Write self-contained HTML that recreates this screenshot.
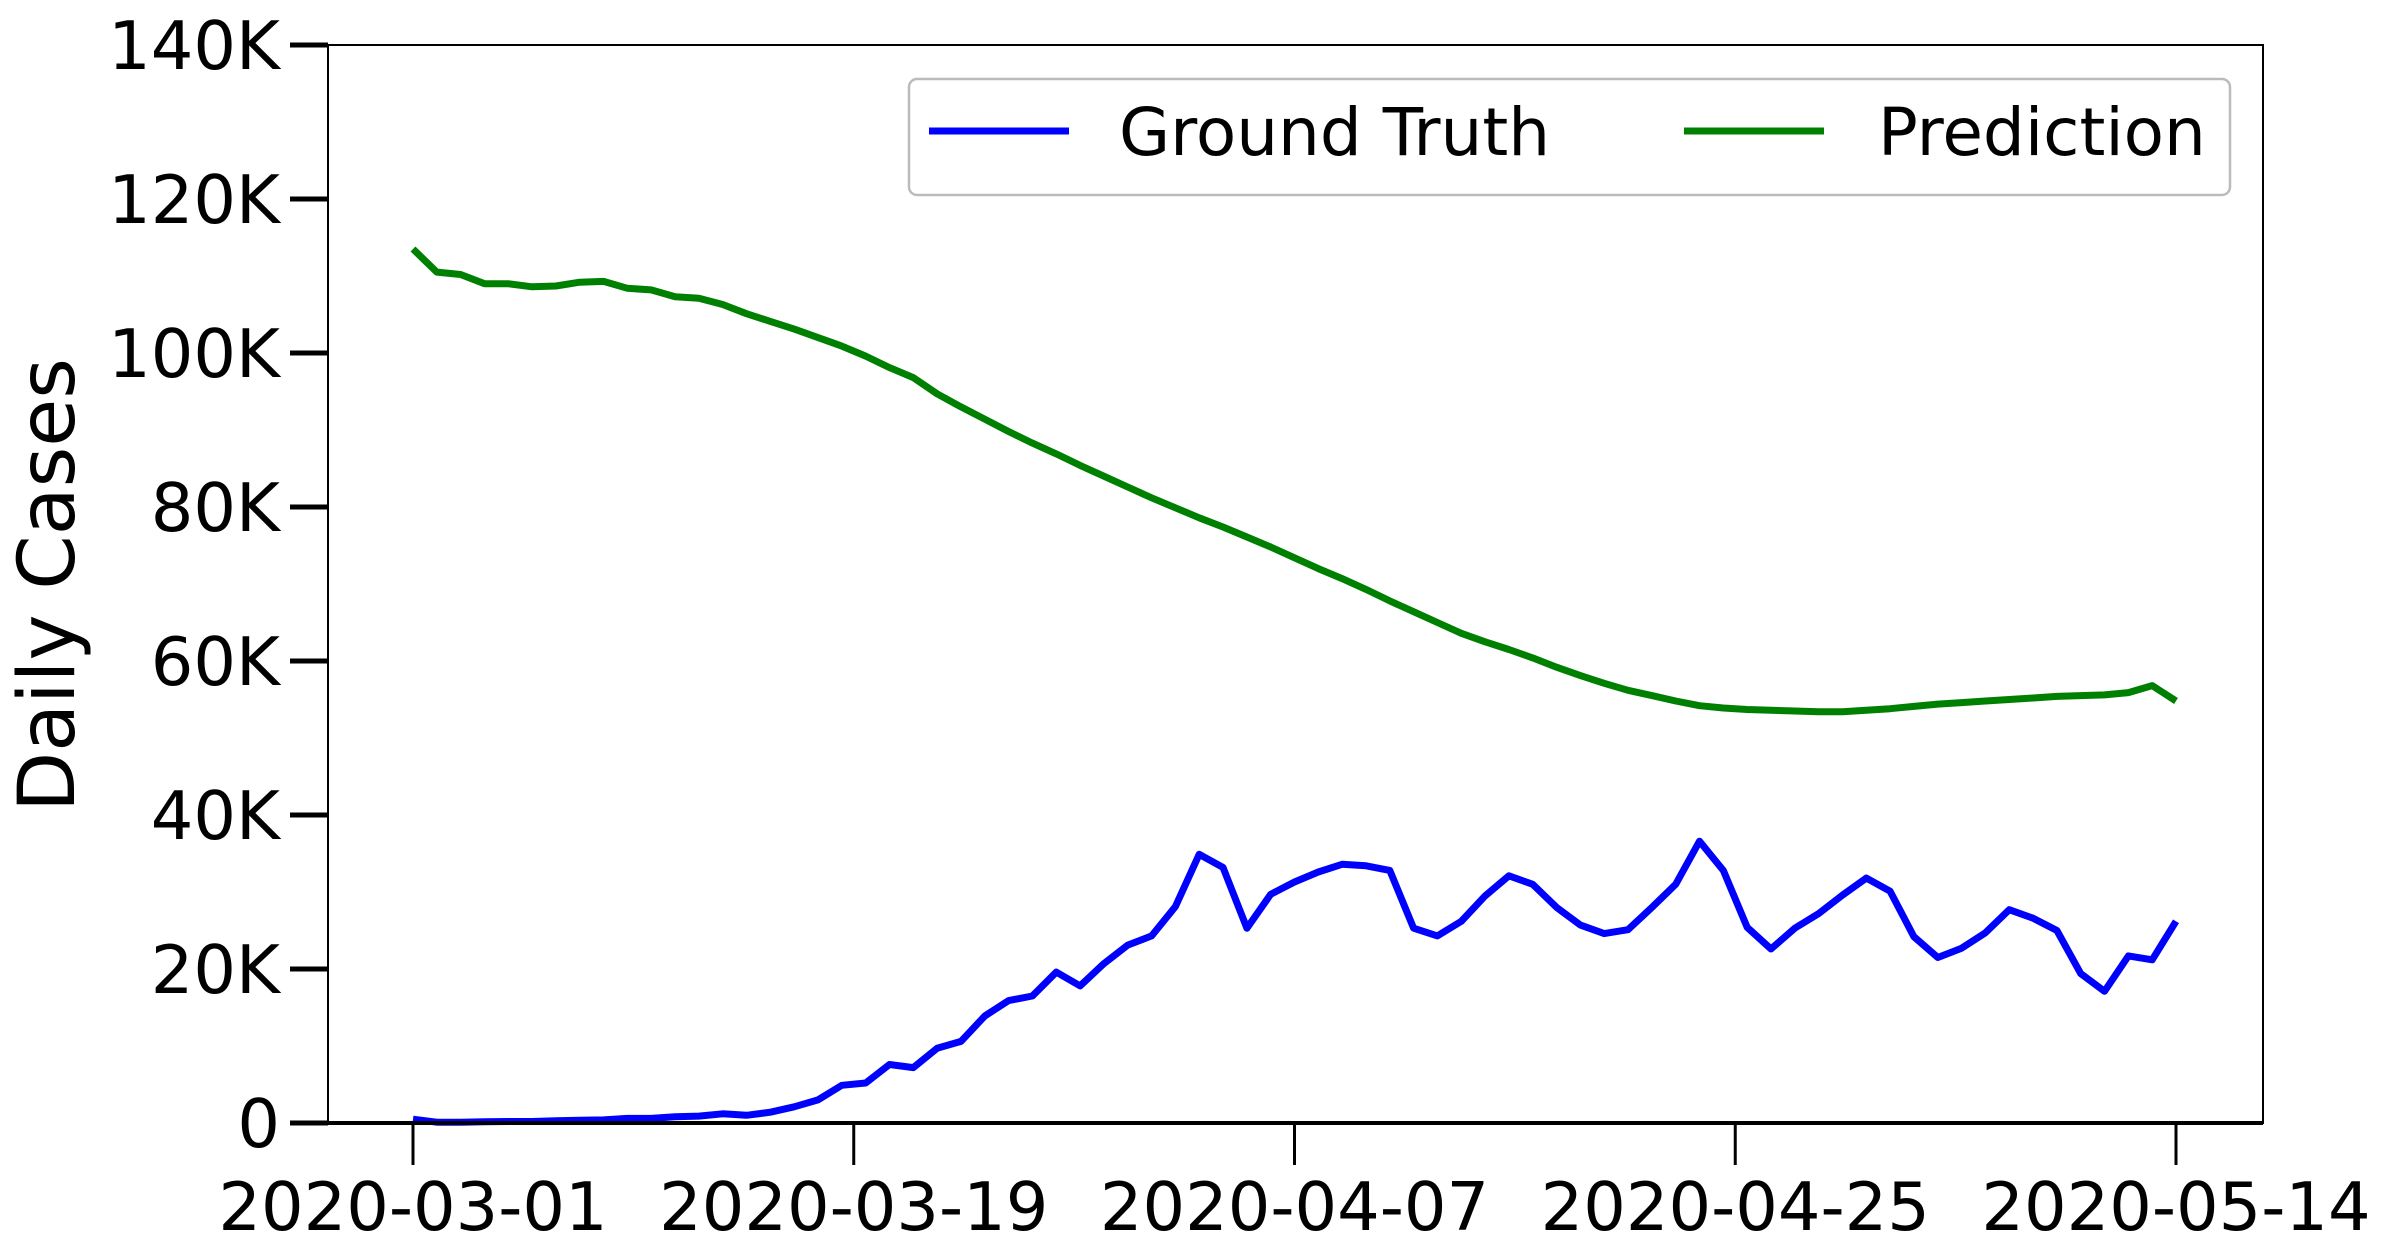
<!DOCTYPE html>
<html><head><meta charset="utf-8"><style>
html,body{margin:0;padding:0;background:#fff;}
svg{display:block;font-family:"DejaVu Sans","Liberation Sans",sans-serif;}
</style></head><body>
<svg id="chart" width="2389" height="1258" viewBox="0 0 2389 1258" xmlns="http://www.w3.org/2000/svg">
<rect x="0" y="0" width="2389" height="1258" fill="#fff"/>
<g id="plot"></g>
<text x="0" y="0" font-size="78" text-anchor="middle" transform="translate(74,585) rotate(-90)">Daily Cases</text>
<g>
<rect x="909" y="79" width="1321" height="116" rx="8" fill="#fff" stroke="#bbb" stroke-width="2.5"/>
<line x1="929" y1="131" x2="1069" y2="131" stroke="#0000ff" stroke-width="7"/>
<text x="1119" y="155" font-size="66">Ground Truth</text>
<line x1="1684" y1="131" x2="1824" y2="131" stroke="#008000" stroke-width="7"/>
<text x="1878" y="155" font-size="66">Prediction</text>
</g>
</svg>
<script>
const groundTruth = [0.5,0.1,0.1,0.15,0.2,0.2,0.3,0.35,0.4,0.6,0.6,0.8,0.9,1.2,1.0,1.4,2.1,3.0,4.9,5.2,7.6,7.2,9.7,10.6,13.9,15.9,16.5,19.6,17.8,20.7,23.1,24.3,28.1,34.9,33.2,25.3,29.7,31.3,32.6,33.6,33.4,32.8,25.3,24.3,26.2,29.5,32.1,31,28,25.7,24.6,25.1,28,31,36.6,32.8,25.4,22.6,25.3,27.2,29.6,31.8,30.1,24.2,21.5,22.7,24.7,27.7,26.6,25,19.4,17.1,21.7,21.2,26.2];
const prediction = [113.5,110.5,110.2,109,109,108.6,108.7,109.2,109.3,108.4,108.2,107.3,107.1,106.3,105.1,104.1,103.1,102,100.9,99.6,98.1,96.8,94.7,93,91.4,89.8,88.3,86.9,85.4,84,82.6,81.2,79.9,78.6,77.4,76.1,74.8,73.4,72,70.7,69.3,67.8,66.4,65,63.6,62.5,61.5,60.4,59.2,58.1,57.1,56.2,55.5,54.8,54.2,53.9,53.7,53.6,53.5,53.4,53.4,53.6,53.8,54.1,54.4,54.6,54.8,55,55.2,55.4,55.5,55.6,55.9,56.8,54.8];
const yTicks = [0,20,40,60,80,100,120,140];
const yTickLabels = ["0","20K","40K","60K","80K","100K","120K","140K"];
const xTickDays = [0,18.5,37,55.5,74];
const xTickLabels = ["2020-03-01","2020-03-19","2020-04-07","2020-04-25","2020-05-14"];

const NS="http://www.w3.org/2000/svg";
const L=328,R=2263,T=45,B=1123;
const X0=413,X1=2176,nDays=74;
function xs(d){return X0+(X1-X0)*d/nDays;}
function ys(v){return B-(B-T)*v/140;}
const g=document.getElementById('plot');
function mk(tag,attrs){const e=document.createElementNS(NS,tag);for(const k in attrs)e.setAttribute(k,attrs[k]);g.appendChild(e);return e;}

function series(arr,color,name){
  const pts=arr.map((v,i)=>xs(i).toFixed(1)+','+ys(v).toFixed(1)).join(' ');
  const p=mk('polyline',{points:pts,fill:'none',stroke:color,'stroke-width':7,'stroke-linejoin':'round','stroke-linecap':'butt'});
  
  
}
series(prediction,'#008000','prediction-line');
series(groundTruth,'#0000ff','ground-truth-line');

const frame=mk('rect',{x:L,y:T,width:R-L,height:B-T,fill:'none',stroke:'#000','stroke-width':2});



yTicks.forEach((v,i)=>{
  const t=mk('line',{x1:L-38,x2:L,y1:ys(v),y2:ys(v),stroke:'#000','stroke-width':5});
  
  
  const tx=mk('text',{x:L-48,y:ys(v)+24,'font-size':67,'text-anchor':'end'});
  tx.textContent=yTickLabels[i];
  
  
});
xTickDays.forEach((d,i)=>{
  const t=mk('line',{x1:xs(d),x2:xs(d),y1:B,y2:B+42,stroke:'#000','stroke-width':3});
  
  
  const tx=mk('text',{x:xs(d),y:1230,'font-size':67,'text-anchor':'middle'});
  tx.textContent=xTickLabels[i];
  
  
});
const ax=mk('line',{x1:L,x2:R,y1:B,y2:B,stroke:'#000','stroke-width':4});


</script>
</body></html>
